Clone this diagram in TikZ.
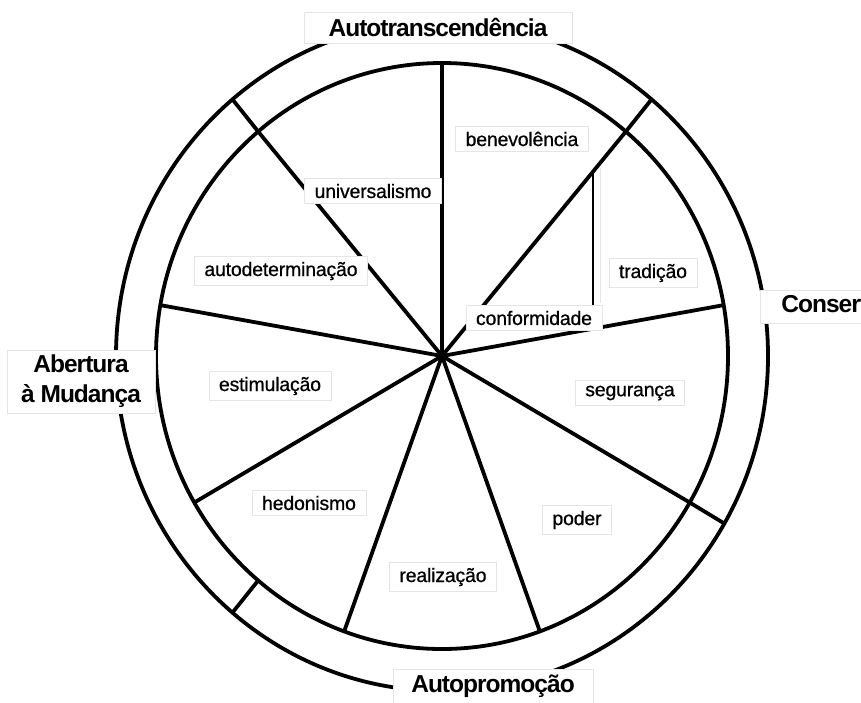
\documentclass[tikz,border=0pt]{standalone}
\usepackage{fontspec}
\setmainfont{Liberation Sans}
\newfontfamily\ringfont[LetterSpace=-4.0]{Liberation Sans}
\newfontfamily\valfont[FakeBold=0.7, LetterSpace=-1.0]{Liberation Sans}
\usetikzlibrary{calc}
\begin{document}
\begin{tikzpicture}[x=1pt,y=-1pt,
  wheel/.style={line width=3.8pt},
  ringlabel/.style={fill=white, draw=black!10, line width=0.8pt, font=\ringfont\fontsize{24.5}{30}\selectfont\bfseries, inner sep=0pt, align=center},
  vlabel/.style={fill=white, draw=black!10, line width=0.8pt, font=\valfont\fontsize{19.5}{21}\selectfont, inner xsep=10pt, inner ysep=5.5pt}]
\useasboundingbox (0,0) rectangle (861,702);
\clip (0,0) rectangle (861,702);
\coordinate (C) at (442,356);
% rings
\draw[wheel] (C) ellipse [x radius=326pt, y radius=335pt];
\draw[wheel] (C) ellipse [x radius=286pt, y radius=293pt];
% spoke ends on inner ring
\foreach \a/\n in {90/s1,50/s2,10/s3,-30/s4,-70/s5,-110/s6,-150/s7,170/s8,130/s9}
  \coordinate (\n) at ($(C)+(\a:286pt and 293pt)$);
% divider ends on outer ring
\foreach \a/\n in {50/oA,-30/oB,230/oC,130/oD}
  \coordinate (\n) at ($(C)+(\a:326pt and 335pt)$);
\coordinate (iC) at ($(C)+(230:286pt and 293pt)$);
% spokes
\foreach \n in {s1,s2,s3,s4,s5,s6,s7,s8,s9}
  \draw[wheel] (C) -- (\n);
% ring dividers
\draw[wheel] (s2) -- (oA);
\draw[wheel] (s4) -- (oB);
\draw[wheel] (iC) -- (oC);
\draw[wheel] (s9) -- (oD);
% conformidade / tradicao divider
\coordinate (vt) at ($(C)!0.8215!(s2)$);
\coordinate (vb) at ($(C)!0.536!(s3)$);
\draw[line width=2pt] (vt) -- (vt |- vb);
\draw[black!10, line width=0.8pt] (600,168) -- (600,303);
% ring labels
\node[ringlabel, minimum width=268pt, minimum height=31pt] (tt) at (438,27.5) {Autotranscend\^encia};
\node[ringlabel, anchor=west, minimum height=33pt, inner xsep=21pt] (cs) at (760,306.5) {Conserva\c{c}\~ao};
\node[ringlabel, minimum width=148pt, minimum height=63pt] (am) at (81,381.5) {Abertura\\\`a Mudan\c{c}a};
\node[ringlabel, minimum width=200pt, minimum height=34pt] (ap) at (493,686) {Autopromo\c{c}\~ao};
% value labels
\node[vlabel] (be) at (522,139) {benevol\^encia};
\node[vlabel] (un) at (373,191) {universalismo};
\node[vlabel] (ad) at (281,271) {autodetermina\c{c}\~ao};
\node[vlabel] (tr) at (653,273) {tradi\c{c}\~ao};
\node[vlabel] (co) at (534,318) {conformidade};
\node[vlabel] (es) at (270,386) {estimula\c{c}\~ao};
\node[vlabel] (se) at (630,393) {seguran\c{c}a};
\node[vlabel] (he) at (309,503) {hedonismo};
\node[vlabel] (po) at (577,520) {poder};
\node[vlabel] (re) at (443,577) {realiza\c{c}\~ao};
\end{tikzpicture}
\end{document}
